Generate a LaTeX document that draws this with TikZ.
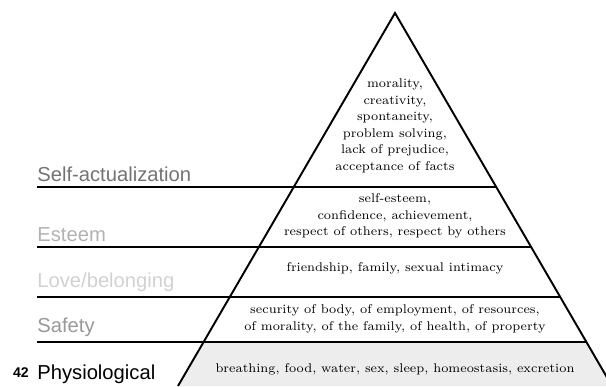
\documentclass[tikz,border=0pt]{standalone}
\usepackage{fontspec}
\newfontfamily\labelfont{Liberation Sans}
\usetikzlibrary{positioning}

\begin{document}
\begin{tikzpicture}[x=0.02cm,y=-0.02cm,
  tier/.style={align=center,font=\fontsize{7.2}{9.4}\selectfont,inner sep=0pt},
  level/.style={anchor=south west,font=\labelfont\fontsize{11.5}{12}\selectfont,inner sep=0pt},
  border/.style={line width=1.1pt}]
\useasboundingbox (0,0) rectangle (606,386);
% pyramid outline
\coordinate (apex) at (395,13);
\coordinate (baseL) at (178,386);
\coordinate (baseR) at (612,386);
\fill[black!7] (204,342) -- (586,342) -- (baseR) -- (baseL) -- cycle;
\draw[border] (baseL) -- (apex) -- (baseR);
% tier boundaries
\coordinate (l1) at (37,187);  \coordinate (r1) at (496,187);
\coordinate (l2) at (37,247);  \coordinate (r2) at (531,247);
\coordinate (l3) at (37,297);  \coordinate (r3) at (560,297);
\coordinate (l4) at (37,342);  \coordinate (r4) at (586,342);
\draw[border] (l1) -- (r1);
\draw[border] (l2) -- (r2);
\draw[thick] (l3) -- (r3);
\draw[border] (l4) -- (r4);
% level names
\node[level,text=black!55,above=3pt of l1,anchor=south west] (selfact) {Self-actualization};
\node[level,text=black!30,above=3pt of l2,anchor=south west] (esteem) {Esteem};
\node[level,text=black!18,above=3pt of l3,anchor=south west] (love) {Love/belonging};
\node[level,text=black!40,above=3pt of l4,anchor=south west] (safety) {Safety};
\node[level,text=black,anchor=base west] (physio) at (37,379) {Physiological};
\node[font=\labelfont\bfseries\fontsize{8}{9}\selectfont,anchor=base east,inner sep=0pt] (pagenum) at (29,377) {42};
% needs
\node[tier] (need5) at (395,126) {morality,\\creativity,\\spontaneity,\\problem solving,\\lack of prejudice,\\acceptance of facts};
\node[tier] (need4) at (395,216) {self-esteem,\\confidence, achievement,\\respect of others, respect by others};
\node[tier] (need3) at (395,268) {friendship, family, sexual intimacy};
\node[tier] (need2) at (395,319) {security of body, of employment, of resources,\\of morality, of the family, of health, of property};
\node[tier] (need1) at (395,369) {breathing, food, water, sex, sleep, homeostasis, excretion};
\end{tikzpicture}
\end{document}
